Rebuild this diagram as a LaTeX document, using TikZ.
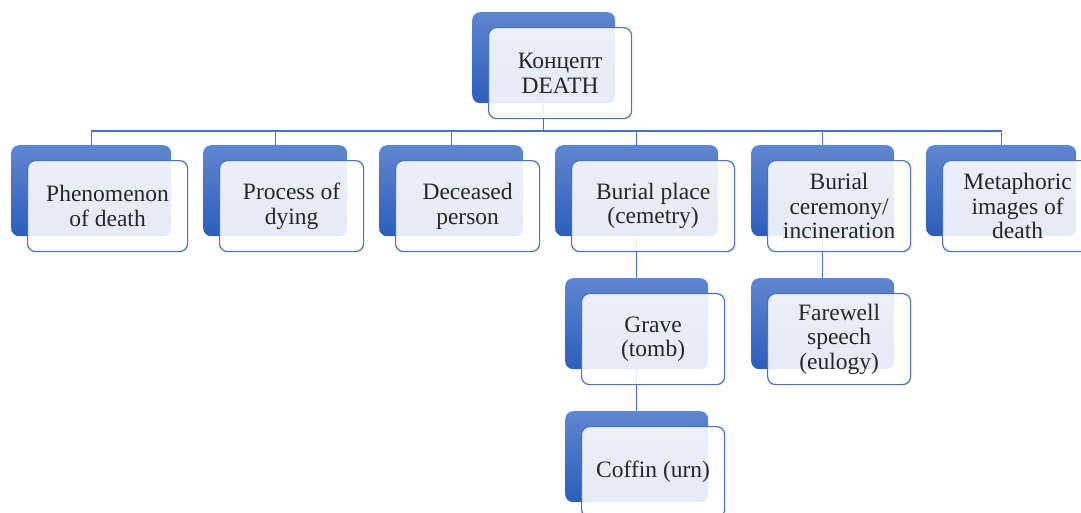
\documentclass[tikz,border=0pt]{standalone}
\usepackage{fontspec}
\setmainfont{Liberation Serif}
\usetikzlibrary{backgrounds}
\definecolor{smartblue}{RGB}{68,114,196}
\definecolor{shadetop}{RGB}{96,134,207}
\definecolor{shadebot}{RGB}{44,94,189}
\tikzset{back/.style={rounded corners=8pt,top color=shadetop,bottom color=shadebot,minimum height=91pt,inner sep=0pt,anchor=north west}}
\tikzset{front/.style={rounded corners=8pt,draw=smartblue,line width=1.2pt,fill=white,fill opacity=0.88,text opacity=1,
    minimum height=91pt,inner sep=0pt,anchor=north west,align=center,text=black!85,font=\fontsize{23.5}{24.5}\selectfont}}
\tikzset{link/.style={smartblue,line width=1.4pt}}

\begin{document}
\begin{tikzpicture}[x=1pt,y=-1pt]
    \useasboundingbox (0,0) rectangle (1081,512);
    % back boxes
    \node [back,minimum width=143pt] (top) at (472,12) {};
    \node [back,minimum width=160pt] (b1) at (11,145) {};
    \node [back,minimum width=144pt] (b2) at (203,145) {};
    \node [back,minimum width=144pt] (b3) at (379,145) {};
    \node [back,minimum width=163pt] (b4) at (555,145) {};
    \node [back,minimum width=143pt] (b5) at (751,145) {};
    \node [back,minimum width=150pt] (b6) at (926,145) {};
    \node [back,minimum width=143pt] (grave) at (565,278) {};
    \node [back,minimum width=143pt] (coffin) at (565,411) {};
    \node [back,minimum width=143pt] (speech) at (751,278) {};
    % front boxes with the texts
    \node [front,minimum width=143pt] (ftop) at ([shift={(16,15)}]top.north west) {Концепт\\DEATH};
    \node [front,minimum width=160pt] (f1) at ([shift={(16,15)}]b1.north west) {Phenomenon\\of death};
    \node [front,minimum width=144pt] (f2) at ([shift={(16,15)}]b2.north west) {Process of\\dying};
    \node [front,minimum width=144pt] (f3) at ([shift={(16,15)}]b3.north west) {Deceased\\person};
    \node [front,minimum width=163pt] (f4) at ([shift={(16,15)}]b4.north west) {Burial place\\(cemetry)};
    \node [front,minimum width=143pt] (f5) at ([shift={(16,15)}]b5.north west) {Burial\\ceremony/\\incineration};
    \node [front,minimum width=150pt] (f6) at ([shift={(16,15)}]b6.north west) {Metaphoric\\images of\\death};
    \node [front,minimum width=143pt] (fgrave) at ([shift={(16,15)}]grave.north west) {Grave\\(tomb)};
    \node [front,minimum width=143pt] (fcoffin) at ([shift={(16,15)}]coffin.north west) {Coffin (urn)};
    \node [front,minimum width=143pt] (fspeech) at ([shift={(16,15)}]speech.north west) {Farewell\\speech\\(eulogy)};
    % connectors
    \begin{scope}[on background layer]
        \coordinate (bar) at (543,131);
        \draw [link] (top.south) -- (top.south |- bar);
        \foreach \n in {b1,b2,b3,b4,b5,b6}
            \draw [link] (\n.north) |- (bar);
        \draw [link] (b4.south) -- (grave.north);
        \draw [link] (grave.south) -- (coffin.north);
        \draw [link] (b5.south) -- (speech.north);
    \end{scope}
\end{tikzpicture}
\end{document}
